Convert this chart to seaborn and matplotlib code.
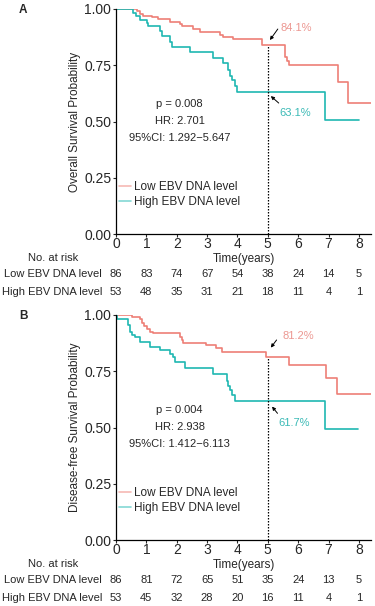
import seaborn as sns
import pandas as pd
from matplotlib import pyplot as plt

# Kaplan-Meier step curves
a_low_t = [0, 0.68, 0.79, 0.90, 1.17, 1.39, 1.78, 2.10, 2.16, 2.54, 2.76, 3.42, 3.53, 3.86, 4.82, 5.56, 5.63, 5.70, 7.31, 7.64, 8.40]
a_low_s = [1.0, 0.991, 0.979, 0.968, 0.963, 0.954, 0.944, 0.933, 0.924, 0.910, 0.899, 0.884, 0.874, 0.865, 0.841, 0.788, 0.770, 0.751, 0.677, 0.582, 0.582]
a_high_t = [0, 0.57, 0.66, 0.79, 1.01, 1.06, 1.45, 1.50, 1.78, 1.83, 2.43, 3.20, 3.53, 3.69, 3.75, 3.81, 3.91, 3.99, 6.875, 8.0]
a_high_s = [1.0, 0.984, 0.969, 0.951, 0.939, 0.924, 0.904, 0.880, 0.855, 0.833, 0.807, 0.781, 0.759, 0.729, 0.702, 0.684, 0.658, 0.631, 0.507, 0.507]

b_low_t = [0, 0.515, 0.79, 0.84, 0.92, 1.01, 1.12, 1.23, 2.10, 2.16, 2.21, 2.98, 3.31, 3.48, 4.93, 5.70, 6.91, 7.29, 8.40]
b_low_s = [1.0, 0.993, 0.981, 0.963, 0.951, 0.936, 0.926, 0.919, 0.901, 0.889, 0.877, 0.867, 0.852, 0.837, 0.812, 0.778, 0.719, 0.650, 0.650]
b_high_t = [0, 0.02, 0.38, 0.46, 0.52, 0.63, 0.79, 1.12, 1.45, 1.78, 1.89, 1.94, 2.27, 3.20, 3.64, 3.69, 3.75, 3.81, 3.91, 6.89, 7.97]
b_high_s = [1.0, 0.981, 0.956, 0.926, 0.911, 0.901, 0.881, 0.859, 0.844, 0.827, 0.812, 0.793, 0.763, 0.738, 0.708, 0.684, 0.667, 0.644, 0.617, 0.493, 0.493]

# numbers at risk
risk_times = [0, 1, 2, 3, 4, 5, 6, 7, 8]
a_risk_low = [86, 83, 74, 67, 54, 38, 24, 14, 5]
a_risk_high = [53, 48, 35, 31, 21, 18, 11, 4, 1]
b_risk_low = [86, 81, 72, 65, 51, 35, 24, 13, 5]
b_risk_high = [53, 45, 32, 28, 20, 16, 11, 4, 1]

groups = ["Low EBV DNA level", "High EBV DNA level"]
colors = {"Low EBV DNA level": "#EE7F77", "High EBV DNA level": "#1FB7B2"}
pct_colors = ["#EC9791", "#3BBAB6"]

sns.set_style("ticks")
plt.rcParams['font.family'] = ['Liberation Sans', 'DejaVu Sans']

fig = plt.figure(figsize=(3.75, 6.06), dpi=100)
W, H = 375, 606


def panel(top_px, letter, ylabel, low_t, low_s, high_t, high_s, risk_low, risk_high,
          stats, pct_low, pct_high, pct_pos):
    ax = fig.add_axes([116 / W, 1 - (top_px + 225) / H, 255 / W, 225 / H])
    df = pd.concat([
        pd.DataFrame({"time": low_t, "surv": low_s, "group": groups[0]}),
        pd.DataFrame({"time": high_t, "surv": high_s, "group": groups[1]}),
    ])
    sns.lineplot(data=df, x="time", y="surv", hue="group", palette=colors,
                 estimator=None, sort=False, drawstyle="steps-post", lw=1.2, ax=ax)

    ax.set_xlim(0, 8.4)
    ax.set_ylim(0, 1.0)
    ax.set_xticks(risk_times)
    ax.set_yticks([0, 0.25, 0.5, 0.75, 1.0])
    ax.set_yticklabels(["0.00", "0.25", "0.50", "0.75", "1.00"])
    ax.tick_params(axis="both", labelsize=10, length=2.5, width=0.8, pad=1)
    ax.tick_params(axis="x", pad=0)
    sns.despine(ax=ax)
    for s in ["left", "bottom"]:
        ax.spines[s].set_linewidth(0.9)
        ax.spines[s].set_color("black")
    ax.set_ylabel(ylabel, fontsize=8.5, labelpad=2)
    ax.set_xlabel("Time(years)", fontsize=8.5, labelpad=1)

    # 5-year marker
    ax.plot([5, 5], [0, pct_low / 100], ls=(0, (1.2, 1.2)), color="black", lw=0.9)

    leg = ax.legend(loc="upper left", bbox_to_anchor=(0.012, 0.235), frameon=False,
                    fontsize=8.5, handlelength=1.0, handletextpad=0.3,
                    borderpad=0, borderaxespad=0, labelspacing=0.25)
    for h in leg.get_lines():
        h.set_alpha(0.55)

    for i, line in enumerate(stats):
        ax.text(2.1, [0.578, 0.502, 0.427][i], line, ha="center", va="center", fontsize=8)

    (lt, ls, ltip, ltail), (ht, hs, htip, htail) = pct_pos
    ax.text(lt, ls, f"{pct_low}%", color=pct_colors[0], fontsize=8, ha="left", va="center")
    ax.text(ht, hs, f"{pct_high}%", color=pct_colors[1], fontsize=8, ha="left", va="center")
    for tip, tail in [(ltip, ltail), (htip, htail)]:
        ax.annotate("", xy=tip, xytext=tail,
                    arrowprops=dict(arrowstyle="-|>", color="black", lw=0.7, mutation_scale=5,
                                    shrinkA=0, shrinkB=0))

    # risk table
    tr = ax.get_xaxis_transform()
    ax.text(-2.07, -0.107, "No. at risk", transform=tr, ha="center", va="center", fontsize=8)
    for y, name, vals in [(-0.178, groups[0], risk_low), (-0.258, groups[1], risk_high)]:
        ax.text(-0.46, y, name, transform=tr, ha="right", va="center", fontsize=8)
        for t, v in zip(risk_times, vals):
            ax.text(t, y, str(v), transform=tr, ha="center", va="center", fontsize=8)

    fig.text(23 / W, 1 - (top_px + 1) / H, letter, fontsize=8.5, fontweight="bold",
             ha="center", va="center")
    return ax


panel(9, "A", "Overall Survival Probability", a_low_t, a_low_s, a_high_t, a_high_s,
      a_risk_low, a_risk_high, ["p = 0.008", "HR: 2.701", "95%CI: 1.292\u22125.647"],
      84.1, 63.1,
      ((5.43, 0.916, (5.07, 0.862), (5.33, 0.911)),
       (5.37, 0.536, (5.10, 0.613), (5.36, 0.582))))

panel(315, "B", "Disease-free Survival Probability", b_low_t, b_low_s, b_high_t, b_high_s,
      b_risk_low, b_risk_high, ["p = 0.004", "HR: 2.938", "95%CI: 1.412\u22126.113"],
      81.2, 61.7,
      ((5.48, 0.908, (5.10, 0.855), (5.29, 0.889)),
       (5.34, 0.519, (5.14, 0.593), (5.32, 0.563))))

fig.savefig("out.png", dpi=100)
